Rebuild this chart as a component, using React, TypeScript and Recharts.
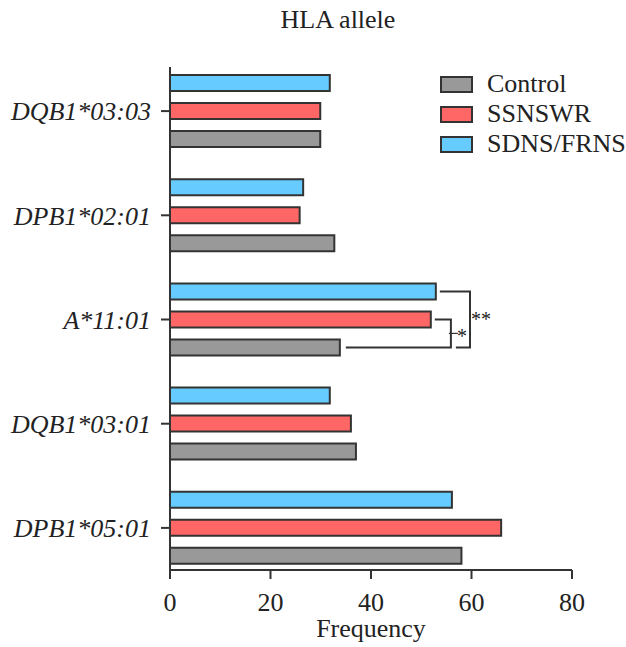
import { BarChart, Bar, XAxis, YAxis, Legend, LabelList } from 'recharts';

const FONT = '"Liberation Serif", "Times New Roman", serif';
const INK = '#222';
const LINE = '#333';

// HLA alleles, top to bottom
const categories = ['DQB1*03:03', 'DPB1*02:01', 'A*11:01', 'DQB1*03:01', 'DPB1*05:01'];
const controlValues = [29.9, 32.7, 33.8, 37.0, 58.0];
const ssnswrValues = [29.9, 25.8, 51.9, 36.0, 65.9];
const sdnsValues = [31.8, 26.5, 52.9, 31.8, 56.1];
const xTicks = [0, 20, 40, 60, 80];

// legend order
const series = [
  { key: 'control', name: 'Control', color: '#999999' },
  { key: 'ssnswr', name: 'SSNSWR', color: '#ff6666' },
  { key: 'sdns', name: 'SDNS/FRNS', color: '#66ccff' },
];

// significance marks on A*11:01 (bracket positions in Frequency units)
const sigCategory = 'A*11:01';
const sigStar = { against: 'ssnswr', at: 55.9, mark: '*' };
const sigDouble = { against: 'sdns', at: 59.7, mark: '**' };

const BAR_SIZE = 16;
const BAR_GAP = 12;
const PITCH = BAR_SIZE + BAR_GAP;

const data = categories.map((allele, i) => ({
  allele,
  control: controlValues[i],
  ssnswr: ssnswrValues[i],
  sdns: sdnsValues[i],
}));

function renderBrackets(props: any) {
  const vb = props.viewBox ?? props;
  const x = props.x ?? vb.x;
  const y = props.y ?? vb.y;
  const width = props.width ?? vb.width;
  const height = props.height ?? vb.height;
  const value = Number(props.value);
  const index = props.index ?? controlValues.indexOf(value);
  if (categories[index] !== sigCategory || !value) return null;

  const k = width / value;
  const xAt = (v: number) => x + v * k;
  const row = data[index] as any;

  const grayY = y + height / 2;
  const redY = grayY - PITCH;
  const blueY = grayY - 2 * PITCH;

  const b1 = xAt(sigStar.at);
  const b2 = xAt(sigDouble.at);
  const mid1 = (redY + grayY) / 2;
  const mid2 = (blueY + grayY) / 2;

  return (
    <g stroke={LINE} strokeWidth={2} fill="none">
      <polyline
        points={`${xAt(row[sigStar.against]) + 4},${redY} ${b1},${redY} ${b1},${grayY} ${xAt(row.control) + 6},${grayY}`}
      />
      <polyline
        points={`${xAt(row[sigDouble.against]) + 4},${blueY} ${b2},${blueY} ${b2},${grayY} ${b1 + 5},${grayY}`}
      />
      <line x1={b1 - 2} x2={b1 + 7} y1={mid1} y2={mid1} strokeWidth={1.2} />
      <text x={b1 + 6} y={mid1 + 10} fontFamily={FONT} fontSize={20} fill={INK} stroke="none">
        {sigStar.mark}
      </text>
      <text x={b2 + 1} y={mid2 + 7} fontFamily={FONT} fontSize={20} fill={INK} stroke="none">
        {sigDouble.mark}
      </text>
    </g>
  );
}

function renderLegend() {
  return (
    <div style={{ fontFamily: FONT, fontSize: 26, color: INK }}>
      {series.map((s) => (
        <div key={s.key} style={{ display: 'flex', alignItems: 'center', height: 30, lineHeight: '30px' }}>
          <span
            style={{
              width: 29,
              height: 13,
              background: s.color,
              border: `2px solid ${LINE}`,
              marginRight: 14,
              flexShrink: 0,
            }}
          />
          <span>{s.name}</span>
        </div>
      ))}
    </div>
  );
}

export default function App() {
  return (
    <div style={{ position: 'relative', width: 626, height: 647, background: '#fff' }}>
      <style>{'body{margin:0}'}</style>
      <div
        style={{
          position: 'absolute',
          top: 7,
          left: 238,
          width: 200,
          textAlign: 'center',
          fontFamily: FONT,
          fontSize: 26,
          lineHeight: '26px',
          color: INK,
          zIndex: 1,
        }}
      >
        HLA allele
      </div>
      <BarChart
        width={626}
        height={647}
        data={data}
        layout="vertical"
        margin={{ top: 67, right: 54, bottom: 0, left: 0 }}
        barSize={BAR_SIZE}
        barGap={BAR_GAP}
      >
        <XAxis
          type="number"
          domain={[0, 80]}
          ticks={xTicks}
          height={77}
          stroke={LINE}
          strokeWidth={2}
          tickSize={9}
          tickMargin={14}
          tick={{ fontFamily: FONT, fontSize: 26, fill: INK }}
          label={{
            value: 'Frequency',
            position: 'insideBottom',
            offset: 10,
            style: { fontFamily: FONT, fontSize: 26, fill: INK },
          }}
        />
        <YAxis
          type="category"
          dataKey="allele"
          width={170}
          padding={{ top: -8, bottom: -10 }}
          stroke={LINE}
          strokeWidth={2}
          tickSize={9}
          tickMargin={10}
          tick={{ fontFamily: FONT, fontSize: 26, fontStyle: 'italic', fill: INK }}
        />
        <Legend
          layout="vertical"
          align="center"
          verticalAlign="middle"
          content={renderLegend}
          wrapperStyle={{ top: 69, left: 440, width: 186 }}
        />
        <Bar dataKey="sdns" name="SDNS/FRNS" fill="#66ccff" stroke={LINE} strokeWidth={2} isAnimationActive={false} />
        <Bar dataKey="ssnswr" name="SSNSWR" fill="#ff6666" stroke={LINE} strokeWidth={2} isAnimationActive={false} />
        <Bar dataKey="control" name="Control" fill="#999999" stroke={LINE} strokeWidth={2} isAnimationActive={false}>
          <LabelList dataKey="control" content={renderBrackets} />
        </Bar>
      </BarChart>
    </div>
  );
}
